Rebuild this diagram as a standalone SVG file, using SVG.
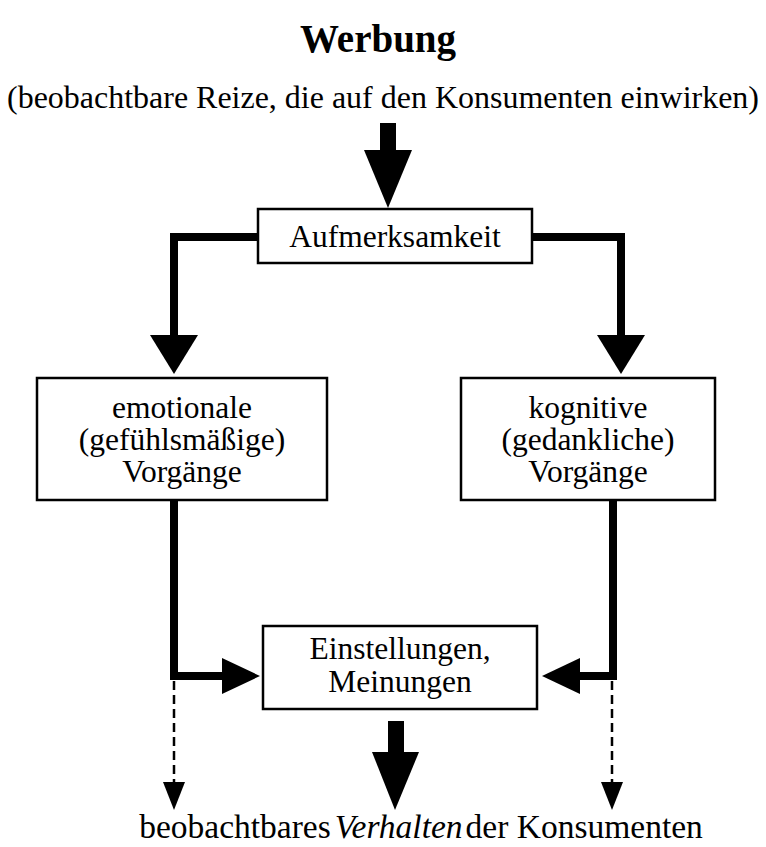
<svg xmlns="http://www.w3.org/2000/svg" width="766" height="847" viewBox="0 0 766 847" font-family="'Liberation Serif', 'Times New Roman', Times, serif">
  <style>
    text { font-family: 'Liberation Serif', 'Times New Roman', Times, serif; fill: #000; text-anchor: middle; }
    .t { font-size: 31.5px; }
    .sub { font-size: 31px; }
    .foot { font-size: 33.5px; }
    .title { font-size: 39px; font-weight: bold; }
    .box { fill: #fff; stroke: #000; stroke-width: 2.5; }
    .thick { fill: none; stroke: #000; stroke-width: 8; stroke-linejoin: miter; stroke-linecap: butt; }
    .dash { fill: none; stroke: #000; stroke-width: 2.5; stroke-dasharray: 9 5; }
    .head { fill: #000; stroke: none; }
  </style>

  <!-- headings -->
  <g id="title">
    <text class="title" x="378" y="52">Werbung</text>
  </g>
  <g id="stimuli">
    <text class="sub" x="383" y="108" textLength="752" lengthAdjust="spacingAndGlyphs">(beobachtbare Reize, die auf den Konsumenten einwirken)</text>
  </g>

  <!-- connectors -->
  <g id="connectors">
    <!-- block arrow into attention -->
    <rect class="head" x="380" y="123" width="16" height="28"/>
    <polygon class="head" points="364,150 412,150 388,208"/>

    <!-- attention to emotional / cognitive -->
    <polyline class="thick" points="258,237 174,237 174,336"/>
    <polygon class="head" points="150,335 198,335 174,374"/>
    <polyline class="thick" points="532,237 621,237 621,336"/>
    <polygon class="head" points="597,335 645,335 621,374"/>

    <!-- processes to attitudes -->
    <polyline class="thick" points="174,500 174,676 224,676"/>
    <polygon class="head" points="222,658 222,694 260,676"/>
    <polyline class="thick" points="613,500 613,676 578,676"/>
    <polygon class="head" points="580,658 580,694 542,676"/>

    <!-- direct (dashed) influence on behaviour -->
    <line class="dash" x1="174" y1="681" x2="174" y2="784"/>
    <polygon class="head" points="163,782 185,782 174,810"/>
    <line class="dash" x1="612" y1="681" x2="612" y2="784"/>
    <polygon class="head" points="601,782 623,782 612,810"/>

    <!-- block arrow from attitudes to behaviour -->
    <rect class="head" x="388" y="721" width="16" height="32"/>
    <polygon class="head" points="372,752 419,752 395,810"/>
  </g>

  <!-- nodes -->
  <g id="attention">
    <rect class="box" x="258" y="209" width="274" height="54"/>
    <text class="t" x="395" y="247">Aufmerksamkeit</text>
  </g>

  <g id="emotional">
    <rect class="box" x="37" y="378" width="290" height="122"/>
    <text class="t" x="182" y="418">emotionale</text>
    <text class="t" x="182" y="450">(gefühlsmäßige)</text>
    <text class="t" x="182" y="482">Vorgänge</text>
  </g>

  <g id="cognitive">
    <rect class="box" x="461" y="378" width="254" height="122"/>
    <text class="t" x="588" y="418">kognitive</text>
    <text class="t" x="588" y="450">(gedankliche)</text>
    <text class="t" x="588" y="482">Vorgänge</text>
  </g>

  <g id="attitudes">
    <rect class="box" x="263" y="626" width="274" height="83"/>
    <text class="t" x="400" y="659">Einstellungen,</text>
    <text class="t" x="400" y="692">Meinungen</text>
  </g>

  <g id="behaviour">
    <text class="foot" x="421" y="838">beobachtbares<tspan font-style="italic" dx="4">Verhalten</tspan><tspan dx="3">der Konsumenten</tspan></text>
  </g>
</svg>
